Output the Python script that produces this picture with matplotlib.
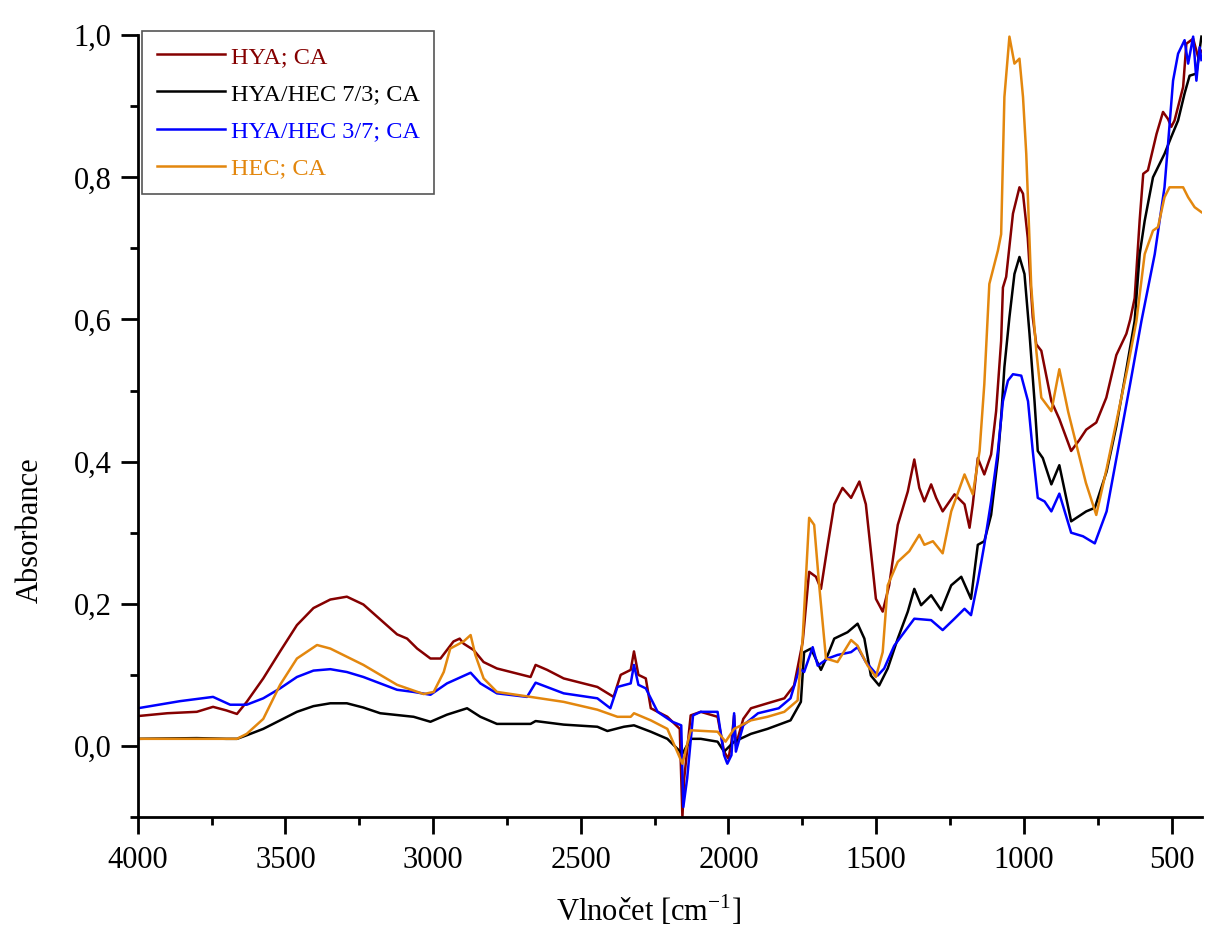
import numpy as np
import matplotlib.pyplot as plt
from matplotlib.ticker import MultipleLocator, FuncFormatter

plt.rcParams['font.family'] = ['Liberation Serif', 'DejaVu Serif']
plt.rcParams['mathtext.fontset'] = 'custom'
plt.rcParams['mathtext.rm'] = 'Liberation Serif'

# HYA; CA
hya_x = [4000, 3900, 3800, 3745, 3700, 3664, 3631, 3575, 3518, 3461, 3405, 3348, 3292, 3236,
         3179, 3122, 3088, 3054, 3009, 2975, 2931, 2910, 2897, 2863, 2829, 2784, 2670, 2653,
         2614, 2558, 2444, 2389, 2365, 2331, 2320, 2305, 2280, 2263, 2207, 2165, 2156, 2150,
         2128, 2094, 2037, 2015, 2000, 1990, 1981, 1975, 1950, 1924, 1868, 1811, 1778, 1749,
         1727, 1704, 1687, 1664, 1642, 1614, 1585, 1557, 1535, 1518, 1501, 1478, 1456, 1427,
         1393, 1371, 1354, 1337, 1314, 1297, 1275, 1235, 1201, 1184, 1173, 1156, 1134, 1111,
         1094, 1077, 1071, 1060, 1037, 1015, 1003, 987, 970, 958, 941, 907, 880, 840, 813,
         789, 755, 721, 687, 653, 640, 625, 608, 596, 580, 551, 529, 512, 501, 490, 461, 450,
         427, 410, 399]
hya_y = [0.042, 0.046, 0.048, 0.055, 0.050, 0.045, 0.062, 0.095, 0.133, 0.170, 0.194, 0.206,
         0.210, 0.199, 0.178, 0.157, 0.151, 0.137, 0.123, 0.123, 0.147, 0.151, 0.144, 0.135,
         0.118, 0.109, 0.097, 0.114, 0.107, 0.095, 0.083, 0.069, 0.100, 0.107, 0.133, 0.100,
         0.095, 0.053, 0.041, 0.024, -0.100, -0.046, 0.043, 0.048, 0.041, -0.008, -0.018,
         0.006, 0.043, 0.001, 0.038, 0.053, 0.060, 0.067, 0.085, 0.146, 0.245, 0.238, 0.221,
         0.283, 0.340, 0.363, 0.349, 0.372, 0.340, 0.274, 0.207, 0.189, 0.226, 0.311, 0.358,
         0.403, 0.363, 0.344, 0.368, 0.349, 0.330, 0.354, 0.340, 0.307, 0.340, 0.405, 0.382,
         0.410, 0.471, 0.570, 0.645, 0.660, 0.749, 0.786, 0.777, 0.715, 0.603, 0.565, 0.556,
         0.485, 0.460, 0.415, 0.430, 0.445, 0.455, 0.490, 0.550, 0.580, 0.600, 0.630, 0.740,
         0.805, 0.810, 0.861, 0.892, 0.882, 0.871, 0.880, 0.927, 0.988, 0.995, 0.969, 0.978]

# HYA/HEC 7/3; CA
h73_x = [4000, 3800, 3700, 3664, 3631, 3575, 3518, 3461, 3405, 3348, 3292, 3236, 3179, 3066,
         3009, 2953, 2885, 2840, 2784, 2670, 2653, 2558, 2444, 2410, 2354, 2320, 2263, 2207,
         2156, 2128, 2094, 2037, 2015, 1981, 1924, 1868, 1790, 1755, 1744, 1721, 1687, 1664,
         1642, 1597, 1563, 1540, 1518, 1490, 1461, 1427, 1393, 1371, 1348, 1314, 1280, 1246,
         1212, 1179, 1156, 1134, 1111, 1088, 1077, 1066, 1049, 1032, 1015, 998, 981, 964, 953,
         936, 907, 880, 840, 789, 760, 720, 687, 653, 625, 608, 591, 563, 524, 501, 478, 456,
         439, 416, 399]
h73_y = [0.010, 0.011, 0.010, 0.010, 0.015, 0.024, 0.036, 0.048, 0.056, 0.060, 0.060, 0.054,
         0.046, 0.041, 0.034, 0.044, 0.053, 0.041, 0.031, 0.031, 0.035, 0.030, 0.027, 0.021,
         0.027, 0.029, 0.020, 0.010, -0.011, 0.010, 0.010, 0.006, -0.008, 0.006, 0.017, 0.024,
         0.036, 0.062, 0.132, 0.137, 0.107, 0.128, 0.151, 0.160, 0.172, 0.151, 0.099, 0.085,
         0.109, 0.151, 0.189, 0.221, 0.198, 0.212, 0.191, 0.226, 0.238, 0.207, 0.283, 0.288,
         0.325, 0.405, 0.462, 0.533, 0.603, 0.664, 0.688, 0.664, 0.580, 0.485, 0.415, 0.405,
         0.368, 0.395, 0.316, 0.330, 0.335, 0.386, 0.450, 0.530, 0.598, 0.692, 0.739, 0.800,
         0.833, 0.857, 0.880, 0.918, 0.943, 0.946, 0.998]

# HYA/HEC 3/7; CA
h37_x = [4000, 3857, 3745, 3687, 3631, 3575, 3518, 3461, 3405, 3348, 3292, 3236, 3179, 3122,
         3066, 3009, 2953, 2873, 2840, 2784, 2682, 2653, 2558, 2444, 2400, 2376, 2331, 2320,
         2305, 2280, 2240, 2190, 2160, 2153, 2140, 2120, 2094, 2037, 2015, 2004, 1990, 1981,
         1975, 1950, 1900, 1830, 1790, 1760, 1744, 1715, 1698, 1664, 1631, 1585, 1563, 1535,
         1495, 1473, 1439, 1405, 1371, 1314, 1275, 1235, 1201, 1179, 1156, 1134, 1111, 1088,
         1071, 1054, 1037, 1009, 986, 970, 953, 930, 907, 880, 840, 800, 760, 720, 680, 640,
         602, 557, 524, 512, 495, 478, 456, 444, 427, 416, 405, 399]
h37_y = [0.053, 0.063, 0.069, 0.058, 0.058, 0.067, 0.081, 0.097, 0.106, 0.108, 0.104, 0.097,
         0.088, 0.079, 0.076, 0.072, 0.088, 0.103, 0.088, 0.074, 0.069, 0.089, 0.074, 0.067,
         0.053, 0.083, 0.088, 0.114, 0.086, 0.081, 0.048, 0.034, 0.029, -0.086, -0.046, 0.043,
         0.048, 0.048, -0.013, -0.025, -0.013, 0.046, -0.008, 0.029, 0.046, 0.053, 0.067,
         0.109, 0.104, 0.139, 0.113, 0.123, 0.128, 0.132, 0.139, 0.118, 0.099, 0.109, 0.141,
         0.160, 0.179, 0.177, 0.163, 0.179, 0.193, 0.184, 0.231, 0.283, 0.344, 0.415, 0.485,
         0.514, 0.523, 0.521, 0.485, 0.415, 0.349, 0.344, 0.330, 0.355, 0.300, 0.295, 0.285,
         0.330, 0.420, 0.510, 0.598, 0.692, 0.786, 0.847, 0.936, 0.974, 0.993, 0.960, 0.998,
         0.936, 0.983, 0.965]

# HEC; CA
hec_x = [4000, 3700, 3664, 3631, 3575, 3518, 3461, 3393, 3348, 3236, 3122, 3032, 2998, 2964,
         2942, 2897, 2873, 2857, 2829, 2784, 2670, 2558, 2444, 2376, 2331, 2320, 2263, 2207,
         2156, 2128, 2037, 2010, 1981, 1924, 1868, 1811, 1766, 1749, 1727, 1710, 1693, 1670,
         1631, 1585, 1563, 1529, 1501, 1478, 1461, 1427, 1388, 1354, 1337, 1308, 1275, 1246,
         1201, 1173, 1150, 1134, 1117, 1088, 1077, 1066, 1049, 1032, 1015, 1003, 992, 975,
         958, 941, 907, 880, 850, 820, 790, 755, 720, 680, 650, 619, 591, 563, 546, 524, 507,
         461, 444, 422, 399]
hec_y = [0.010, 0.010, 0.010, 0.017, 0.038, 0.086, 0.123, 0.142, 0.137, 0.114, 0.086, 0.073,
         0.076, 0.104, 0.137, 0.147, 0.156, 0.128, 0.095, 0.076, 0.069, 0.062, 0.051, 0.041,
         0.041, 0.046, 0.036, 0.024, -0.025, 0.022, 0.020, 0.006, 0.024, 0.036, 0.041, 0.048,
         0.064, 0.151, 0.321, 0.311, 0.226, 0.123, 0.118, 0.149, 0.141, 0.113, 0.097, 0.132,
         0.226, 0.259, 0.274, 0.297, 0.283, 0.288, 0.271, 0.330, 0.382, 0.354, 0.415, 0.509,
         0.650, 0.697, 0.720, 0.913, 0.998, 0.960, 0.967, 0.913, 0.833, 0.645, 0.556, 0.490,
         0.471, 0.530, 0.470, 0.420, 0.370, 0.325, 0.390, 0.470, 0.530, 0.598, 0.692, 0.725,
         0.730, 0.772, 0.786, 0.786, 0.772, 0.758, 0.751]

labels = ['HYA; CA', 'HYA/HEC 7/3; CA', 'HYA/HEC 3/7; CA', 'HEC; CA']
colors = ['#850000', '#000000', '#0000ff', '#e3870e']

fig = plt.figure(figsize=(12.08, 9.26), dpi=100)
ax = fig.add_axes([0.114, 0.1177, 0.8808, 0.8443])

series = [(hya_x, hya_y), (h73_x, h73_y), (h37_x, h37_y), (hec_x, hec_y)]
for (x, y), lab, c in zip(series, labels, colors):
    ax.plot(x, y, color=c, lw=1.8, label=lab)

ax.set_xlim(4000, 398)
ax.set_ylim(-0.1, 1.0)
ax.xaxis.set_major_locator(MultipleLocator(500))
ax.xaxis.set_minor_locator(MultipleLocator(250))
ax.yaxis.set_major_locator(MultipleLocator(0.2))
ax.yaxis.set_minor_locator(MultipleLocator(0.1))
ax.yaxis.set_major_formatter(FuncFormatter(lambda v, p: f'{v:.1f}'.replace('.', ',').replace('-0,0', '0,0')))

for s in ['top', 'right']:
    ax.spines[s].set_visible(False)
for s in ['left', 'bottom']:
    ax.spines[s].set_linewidth(2)

ax.tick_params(which='major', direction='out', length=12, width=2, labelsize=22)
ax.tick_params(which='minor', direction='out', length=6, width=2)
ax.tick_params(axis='x', which='major', pad=9)
ax.tick_params(axis='y', which='major', pad=7)

ax.set_xlabel('Vlnočet [cm$^{-1}$]', fontsize=22)
ax.set_ylabel('Absorbance', fontsize=22)
ax.xaxis.set_label_coords(0.48, -0.098)
ax.yaxis.set_label_coords(-0.087, 0.367)

leg = ax.legend(loc='upper left', bbox_to_anchor=(0.004, 1.005), borderaxespad=0,
                fontsize=17.5, handlelength=2.8, handletextpad=0.25, labelspacing=0.62,
                fancybox=False, edgecolor='#555555', framealpha=1, borderpad=0.6)
leg.get_frame().set_linewidth(1.2)
for t, c in zip(leg.get_texts(), colors):
    t.set_color(c)

fig.savefig('out.png', dpi=100)
